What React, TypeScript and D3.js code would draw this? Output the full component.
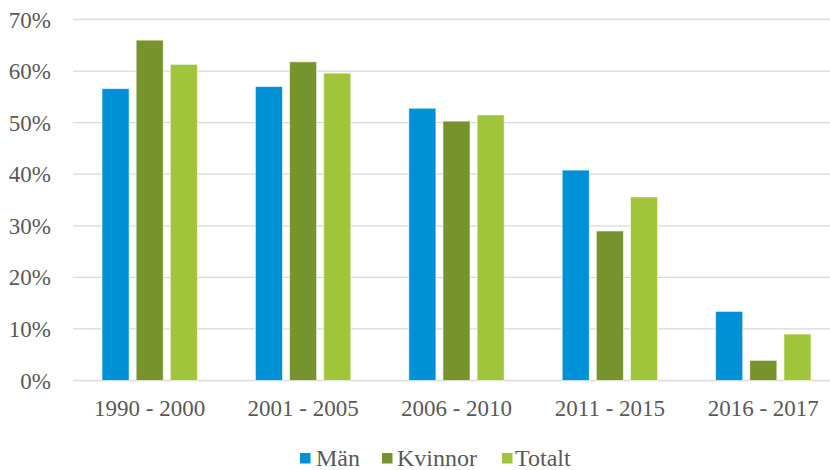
import React from "react";
import * as d3 from "d3";

const periods = ["1990 - 2000", "2001 - 2005", "2006 - 2010", "2011 - 2015", "2016 - 2017"];
const series = ["Män", "Kvinnor", "Totalt"];
const man = [56.6, 57.0, 52.8, 40.8, 13.4];
const kvinnor = [66.0, 61.8, 50.3, 29.0, 3.9];
const totalt = [61.3, 59.6, 51.5, 35.6, 9.0];
const yTicks = [0, 10, 20, 30, 40, 50, 60, 70];
const colors = ["#0090D5", "#77932E", "#A0C43A"];

const width = 830;
const height = 470;
const left = 73;
const right = 840;
const top = 19.5;
const bottom = 380.5;
const textStyle = { fontFamily: "Liberation Serif" };

const App = () => {
  const values = [man, kvinnor, totalt];
  const x0 = d3.scaleBand().domain(periods).range([left, right]);
  const groupPad = 29;
  const x1 = d3
    .scaleBand()
    .domain(series)
    .range([groupPad, x0.bandwidth() - groupPad])
    .paddingInner(0.206);
  const y = d3.scaleLinear().domain([0, 70]).range([bottom, top]);

  // legend positions (square x, text x)
  const legendSq = [300, 382, 502];
  const legendTx = [316, 397, 515];

  return (
    <svg width={width} height={height} style={{ position: "absolute", left: 0, top: 0 }}>
      <rect width={width} height={height} fill="#fff" />
      {yTicks.map((t) => (
        <g key={t}>
          <line x1={left} x2={right} y1={y(t)} y2={y(t)} stroke="#D9D9D9" strokeWidth={1.3} />
          <text x={51} y={y(t)} dy="0.35em" textAnchor="end" style={textStyle} fontSize={23} fill="#595959">
            {t}%
          </text>
        </g>
      ))}
      {periods.map((p, i) => (
        <g key={p} transform={`translate(${x0(p)},0)`}>
          {series.map((s, j) => (
            <rect
              key={s}
              x={x1(s)}
              y={y(values[j][i])}
              width={x1.bandwidth()}
              height={y(0) - y(values[j][i])}
              fill={colors[j]}
              stroke="#fff"
              strokeOpacity={0.6}
              strokeWidth={1}
            />
          ))}
          <text
            x={x0.bandwidth() / 2}
            y={416}
            textAnchor="middle"
            style={textStyle}
            fontSize={23}
            fill="#595959"
          >
            {p}
          </text>
        </g>
      ))}
      {series.map((s, j) => (
        <g key={s}>
          <rect x={legendSq[j]} y={453} width={10.5} height={10.5} fill={colors[j]} />
          <text x={legendTx[j]} y={466} style={textStyle} fontSize={24} fill="#595959">
            {s}
          </text>
        </g>
      ))}
    </svg>
  );
};

export default App;
